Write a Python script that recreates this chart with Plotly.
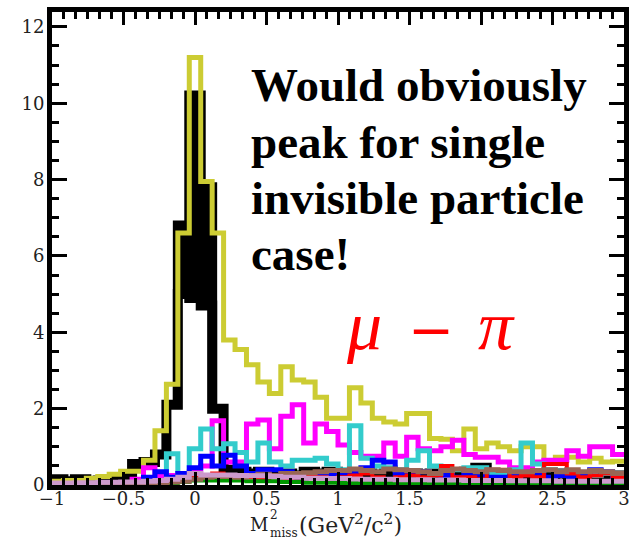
import numpy as np
import plotly.graph_objects as go

# Missing-mass-squared binning: 50 bins over [-1, 3] GeV^2/c^2
x_lo, x_hi, n_bins = -1.0, 3.0, 50
edges = np.linspace(x_lo, x_hi, n_bins + 1)

# Bin contents per sample (entries per bin)
# black sample: outer envelope plus the solid core of the peak
black = [0.15, 0.10, 0.15, 0.10, 0.12, 0.15, 0.20, 0.55, 0.60, 0.80,
         2.10, 5.00, 4.90, 4.70, 2.00, 0.40, 0.35, 0.30, 0.35, 0.30,
         0.30, 0.25, 0.35, 0.30, 0.35, 0.30, 0.25, 0.30, 0.25, 0.30,
         0.25, 0.30, 0.25, 0.30, 0.25, 0.30, 0.35, 0.45, 0.30, 0.25,
         0.30, 0.25, 0.30, 0.25, 0.30, 0.25, 0.20, 0.25, 0.20, 0.25]
black_core = [0.0] * 11 + [6.80, 10.20, 7.80] + [0.0] * 36
yellow = [0.10, 0.12, 0.12, 0.18, 0.22, 0.28, 0.36, 0.36, 0.65, 1.42,
          2.64, 6.60, 11.20, 7.95, 6.60, 3.80, 3.55, 3.15, 2.70, 2.40,
          3.10, 2.75, 2.70, 2.30, 1.75, 1.75, 2.55, 2.15, 1.75, 1.65,
          1.60, 1.87, 1.87, 1.22, 1.20, 0.90, 1.47, 0.95, 1.10, 1.00,
          0.90, 1.00, 1.00, 0.57, 0.73, 0.73, 0.60, 0.70, 0.60, 0.62]
magenta = [0.00, 0.00, 0.00, 0.00, 0.00, 0.00, 0.05, 0.15, 0.45, 0.25,
           0.25, 0.30, 0.35, 0.50, 1.68, 0.60, 0.60, 1.60, 1.70, 0.95,
           1.80, 2.10, 1.10, 1.60, 1.40, 1.05, 0.85, 0.75, 0.75, 1.10,
           0.75, 1.25, 0.95, 0.90, 1.00, 1.17, 0.80, 0.73, 0.73, 0.60,
           0.45, 0.45, 0.60, 0.65, 0.65, 0.90, 0.75, 1.00, 1.00, 0.80]
cyan = [0.00, 0.00, 0.00, 0.00, 0.00, 0.00, 0.00, 0.00, 0.00, 0.05,
        0.82, 0.30, 0.95, 1.47, 0.95, 1.08, 0.85, 0.60, 1.10, 0.60,
        0.50, 0.65, 0.65, 0.70, 0.55, 0.40, 1.55, 0.70, 0.50, 0.45,
        0.40, 0.65, 0.90, 0.50, 0.30, 0.40, 0.45, 0.45, 0.30, 0.30,
        0.40, 1.10, 0.55, 0.40, 0.35, 0.30, 0.30, 0.25, 0.30, 0.20]
blue = [0.00, 0.00, 0.00, 0.00, 0.00, 0.00, 0.00, 0.05, 0.20, 0.35,
        0.20, 0.30, 0.45, 0.75, 0.50, 0.78, 0.50, 0.30, 0.40, 0.40,
        0.35, 0.30, 0.25, 0.30, 0.30, 0.30, 0.35, 0.45, 0.65, 0.60,
        0.30, 0.30, 0.35, 0.30, 0.25, 0.20, 0.30, 0.25, 0.20, 0.20,
        0.25, 0.30, 0.25, 0.20, 0.25, 0.20, 0.25, 0.40, 0.35, 0.20]
red = [0.00, 0.00, 0.00, 0.00, 0.00, 0.00, 0.00, 0.05, 0.10, 0.10,
       0.10, 0.15, 0.20, 0.25, 0.30, 0.20, 0.15, 0.20, 0.15, 0.20,
       0.15, 0.20, 0.25, 0.20, 0.15, 0.20, 0.25, 0.30, 0.20, 0.15,
       0.20, 0.25, 0.20, 0.25, 0.50, 0.20, 0.20, 0.15, 0.40, 0.40,
       0.20, 0.25, 0.20, 0.55, 0.55, 0.30, 0.20, 0.25, 0.30, 0.20]
green = [0.00, 0.00, 0.00, 0.00, 0.00, 0.00, 0.00, 0.02, 0.03, 0.05,
         0.05, 0.08, 0.12, 0.12, 0.12, 0.12, 0.12, 0.10, 0.10, 0.10,
         0.08, 0.08, 0.06, 0.06, 0.06, 0.05, 0.05, 0.05, 0.05, 0.05,
         0.05, 0.05, 0.04, 0.05, 0.04, 0.04, 0.04, 0.05, 0.04, 0.04,
         0.04, 0.04, 0.03, 0.04, 0.03, 0.04, 0.03, 0.03, 0.03, 0.03]
brown = [0.00, 0.00, 0.00, 0.00, 0.00, 0.00, 0.00, 0.02, 0.05, 0.05,
         0.08, 0.10, 0.15, 0.20, 0.22, 0.22, 0.20, 0.25, 0.28, 0.25,
         0.30, 0.30, 0.32, 0.35, 0.38, 0.38, 0.42, 0.38, 0.35, 0.42,
         0.40, 0.38, 0.35, 0.30, 0.38, 0.42, 0.38, 0.35, 0.40, 0.38,
         0.35, 0.35, 0.38, 0.40, 0.35, 0.40, 0.35, 0.38, 0.35, 0.30]
pink = [0.05, 0.05, 0.06, 0.06, 0.07, 0.07, 0.08, 0.08, 0.10, 0.12,
        0.15, 0.20, 0.30, 0.26, 0.26, 0.26, 0.25, 0.24, 0.24, 0.22,
        0.20, 0.20, 0.18, 0.18, 0.17, 0.17, 0.16, 0.15, 0.15, 0.15,
        0.14, 0.14, 0.14, 0.13, 0.13, 0.13, 0.12, 0.12, 0.12, 0.12,
        0.11, 0.11, 0.11, 0.11, 0.10, 0.10, 0.10, 0.10, 0.10, 0.10]


def step_xy(vals, lo=0, hi=None):
    """Outline points of bins lo..hi-1 for an 'hv' step line."""
    hi = len(vals) if hi is None else hi
    xs = list(edges[lo:hi + 1])
    ys = list(vals[lo:hi]) + [vals[hi - 1]]
    return xs, ys


fig = go.Figure()

# solid core of the black peak, then the black envelope with a white interior
nz = [i for i, v in enumerate(black_core) if v > 0]
cx, cy = step_xy(black_core, nz[0], nz[-1] + 1)
cx = [cx[0]] + cx + [cx[-1]]
cy = [0.0] + cy + [0.0]
fig.add_trace(go.Scatter(x=cx, y=cy, mode="lines", fill="toself",
                         fillcolor="black",
                         line=dict(color="black", width=10, shape="hv"),
                         hoverinfo="skip", showlegend=False))
bx, by = step_xy(black)
fig.add_trace(go.Scatter(x=bx, y=by, mode="lines", fill="tozeroy",
                         fillcolor="white",
                         line=dict(color="black", width=10, shape="hv"),
                         hoverinfo="skip", showlegend=False))

samples = [
    ("yellow", yellow, "#CCCC33", 5),
    ("magenta", magenta, "#FF00FF", 5),
    ("cyan", cyan, "#33CCCC", 5),
    ("blue", blue, "#0000FF", 5),
    ("red", red, "#FF0000", 4),
    ("green", green, "#009900", 4),
    ("brown", brown, "#996655", 5),
    ("pink", pink, "#CC99CC", 5),
]
for name, vals, color, lw in samples:
    xs, ys = step_xy(vals)
    fig.add_trace(go.Scatter(
        x=xs, y=ys, mode="lines", name=name,
        line=dict(color=color, width=lw, shape="hv"),
        hoverinfo="skip", showlegend=False,
    ))

serif = "Liberation Serif"
tick_font = dict(family="DejaVu Serif", size=18, color="#222222")
axis_common = dict(
    showline=True, linewidth=5, linecolor="black", mirror="allticks",
    ticks="inside", tickcolor="black", tickwidth=3,
    showgrid=False, zeroline=False, tickfont=tick_font,
)

xticks = [-1, -0.5, 0, 0.5, 1, 1.5, 2, 2.5, 3]
xtick_text = ["\u22121", "\u22120.5", "0", "0.5", "1", "1.5", "2", "2.5", "3"]
yticks = [0, 2, 4, 6, 8, 10, 12]

fig.update_xaxes(
    range=[x_lo, x_hi], tickvals=xticks, ticktext=xtick_text, ticklen=13,
    ticklabelstandoff=-7,
    minor=dict(ticks="inside", tick0=0, dtick=0.5 / 6, ticklen=7,
               tickwidth=3, tickcolor="black"),
    **axis_common,
)
fig.update_yaxes(
    range=[0, 12.39], tickvals=yticks, ticklen=15,
    ticklabelstandoff=-1,
    minor=dict(ticks="inside", tick0=0, dtick=0.5, ticklen=7,
               tickwidth=3, tickcolor="black"),
    **axis_common,
)

L, R, T, B = 52, 14, 7, 55
W, H = 638, 540
pw, ph = W - L - R, H - T - B


def px(xp):
    return (xp - L) / pw


def py(yp):
    return (H - B - yp) / ph


ann = []
# Axis title: M^2_miss (GeV^2/c^2)
title_font = "DejaVu Serif"
ann.append(dict(text="M", x=px(269), y=py(525), xanchor="right", yanchor="middle",
                font=dict(family=title_font, size=18, color="#222222")))
ann.append(dict(text="2", x=px(269), y=py(515), xanchor="left", yanchor="middle",
                font=dict(family=title_font, size=12, color="#222222")))
ann.append(dict(text="miss", x=px(269), y=py(534), xanchor="left", yanchor="middle",
                font=dict(family=title_font, size=12, color="#222222")))
ann.append(dict(text="(GeV<sup>2</sup>/c<sup>2</sup>)", x=px(298), y=py(524),
                xanchor="left", yanchor="middle",
                font=dict(family=title_font, size=22, color="#222222")))

# Bold comment text
lines = ["Would obviously", "peak for single", "invisible particle", "case!"]
for i, t in enumerate(lines):
    ann.append(dict(text="<b>%s</b>" % t, x=px(250), y=py(81 + 57 * i),
                    xanchor="left", yanchor="middle",
                    font=dict(family=serif, size=47, color="black")))

# Channel label: mu - pi
red_font = dict(family=serif, size=70, color="#FF0000")
ann.append(dict(text="<i>\u03bc</i>", x=px(364), y=py(324),
                xanchor="center", yanchor="middle", font=red_font))
ann.append(dict(text="\u2212", x=px(431), y=py(328),
                xanchor="center", yanchor="middle",
                font=dict(family="DejaVu Sans", size=55, color="#FF0000")))
ann.append(dict(text="<i>\u03c0</i>", x=px(496), y=py(324),
                xanchor="center", yanchor="middle", font=red_font))

for a in ann:
    a.update(xref="paper", yref="paper", showarrow=False, borderpad=0)

fig.update_layout(
    width=W, height=H,
    margin=dict(l=L, r=R, t=T, b=B),
    plot_bgcolor="white", paper_bgcolor="white",
    annotations=ann,
)

fig.write_html("out.html")
